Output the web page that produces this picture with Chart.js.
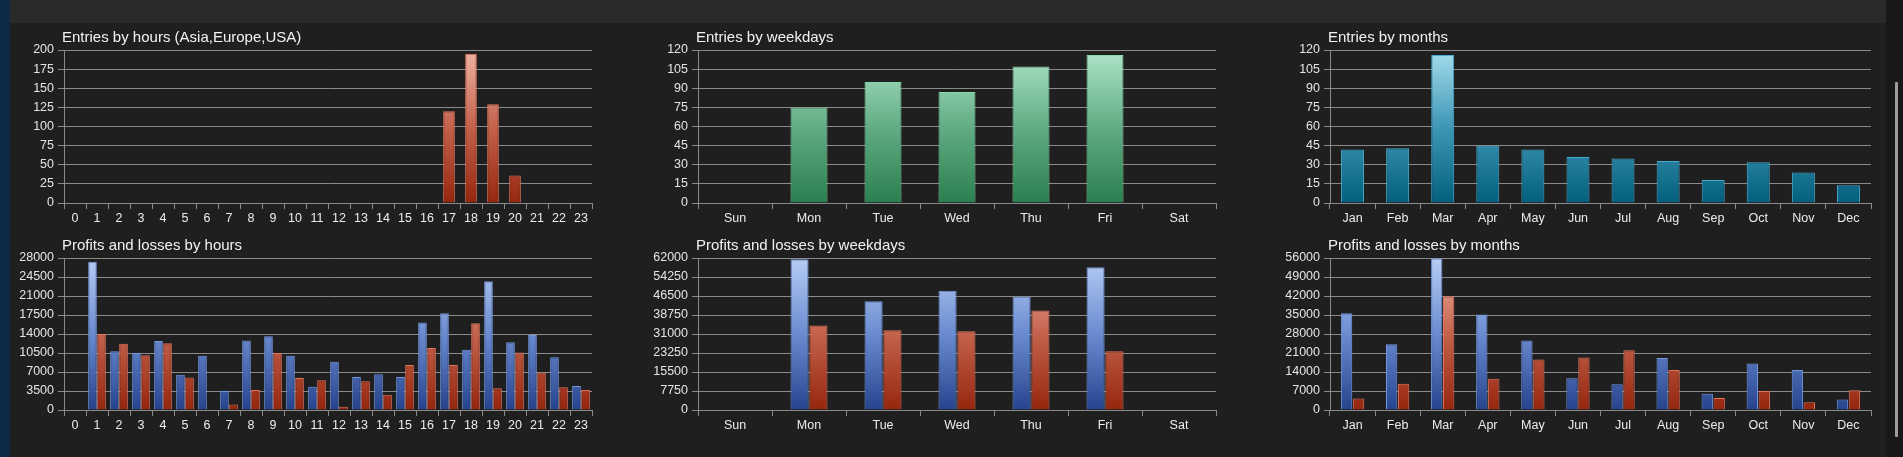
<!DOCTYPE html>
<html>
<head>
<meta charset="utf-8">
<title>Entries and profits</title>
<script src="https://cdn.jsdelivr.net/npm/chart.js@4.4.1/dist/chart.umd.min.js"></script>
<style>
  html, body { margin: 0; padding: 0; }
  body { width: 1903px; height: 457px; overflow: hidden; background: #1f1f1f; position: relative; }
  #stripe  { position: absolute; left: 0; top: 0; width: 10px; height: 457px; background: #0c2a45; }
  #topbar  { position: absolute; left: 10px; top: 0; width: 1876px; height: 23px; background: #2a2a2a; }
  #rail    { position: absolute; left: 1886px; top: 0; width: 17px; height: 457px; background: #181818; }
  #thumb   { position: absolute; left: 1895px; top: 82px; width: 3px; height: 355px; background: #9c9c9c; border-radius: 1px; }
  canvas   { position: absolute; }
</style>
</head>
<body>
<div id="stripe"></div>
<div id="topbar"></div>
<div id="rail"></div>
<div id="thumb"></div>

<canvas id="c-hours"     width="600" height="202" style="left:0px;top:23px"></canvas>
<canvas id="c-weekdays"  width="584" height="202" style="left:640px;top:23px"></canvas>
<canvas id="c-months"    width="613" height="202" style="left:1266px;top:23px"></canvas>
<canvas id="c-pl-hours"    width="600" height="204" style="left:0px;top:228px"></canvas>
<canvas id="c-pl-weekdays" width="584" height="204" style="left:640px;top:228px"></canvas>
<canvas id="c-pl-months"   width="613" height="204" style="left:1266px;top:228px"></canvas>

<script>
// ── Data ─────────────────────────────────────────────────────────────────────

const hourLabels    = ['0','1','2','3','4','5','6','7','8','9','10','11','12','13','14','15','16','17','18','19','20','21','22','23'];
const weekdayLabels = ['Sun','Mon','Tue','Wed','Thu','Fri','Sat'];
const monthLabels   = ['Jan','Feb','Mar','Apr','May','Jun','Jul','Aug','Sep','Oct','Nov','Dec'];

const entriesByHour    = [0,0,0,0,0,0,0,0,0,0,0,0,0,0,0,0,0,120,195,129,36,0,0,0];
const entriesByWeekday = [0,75,95,87,107,116,0];
const entriesByMonth   = [42,43,116,45,42,36,35,33,18,32,24,14];

const profitByHour  = [0,27300,10800,10500,12700,6500,10000,3500,12800,13600,10000,4300,8900,6100,6600,6100,16100,17800,11100,23700,12500,13800,9700,4400];
const lossByHour    = [0,14000,12200,10100,12300,6000,100,1000,3700,10500,5900,5500,600,5300,2800,8300,11400,8300,16000,4000,10600,6900,4200,3700];
const profitByWeekday = [0,61500,44400,48600,46200,58200,0];
const lossByWeekday   = [0,34500,32500,32100,40600,24000,0];
const profitByMonth = [35600,24200,55900,35200,25600,11700,9500,19200,6000,17100,14700,3900];
const lossByMonth   = [4200,9700,41900,11500,18600,19300,22000,14700,4400,7000,2900,7300];

// axis ranges (max, step) as on the picture
const hoursAxis      = [200, 25];
const weekdaysAxis   = [120, 15];
const monthsAxis     = [120, 15];
const plHoursAxis    = [28000, 3500];
const plWeekdaysAxis = [62000, 7750];
const plMonthsAxis   = [56000, 7000];

// ── Look ─────────────────────────────────────────────────────────────────────

Chart.defaults.font.family = '"Liberation Sans", Arial, sans-serif';
Chart.defaults.font.size   = 12;
Chart.defaults.color       = '#e4e4e4';

const gridColor = '#8a8a8a';

const palette = {
  red:   { stops: ['#efb3a3', '#c4624c', '#96260e'], border: '#e2735c' },
  blue:  { stops: ['#b6cdf4', '#6a8bd0', '#26448e'], border: '#7396e2' },
  green: { stops: ['#afe5c9', '#62ad84', '#2a7f4f'], border: '#84d8aa' },
  teal:  { stops: ['#a6deee', '#3f97b6', '#035f7d'], border: '#46acd0' },
};

// gradient spans the whole plot height, so tall bars get the light top
function fillFor(name) {
  return ctx => {
    const { chart } = ctx;
    const area = chart.chartArea;
    if (!area) return palette[name].stops[2];
    const g = chart.ctx.createLinearGradient(0, area.top, 0, area.bottom);
    const s = palette[name].stops;
    g.addColorStop(0, s[0]);
    g.addColorStop(0.5, s[1]);
    g.addColorStop(1, s[2]);
    return g;
  };
}

function barSet(values, name, pct) {
  return {
    data: values,
    backgroundColor: fillFor(name),
    borderColor: palette[name].border,
    borderWidth: 1,
    borderSkipped: 'bottom',
    barPercentage: pct[0],
    categoryPercentage: pct[1],
  };
}

// title drawn just left of the y axis line, above the plot
const panelTitle = {
  id: 'panelTitle',
  afterDraw(chart, args, opts) {
    const c = chart.ctx;
    c.save();
    c.font = '15px "Liberation Sans", Arial, sans-serif';
    c.fillStyle = '#f2f2f2';
    c.textBaseline = 'middle';
    c.fillText(opts.text, chart.chartArea.left - 2, chart.chartArea.top - 12);
    c.restore();
  }
};

function makeChart(id, title, labels, datasets, axis, yWidth, padTop) {
  return new Chart(document.getElementById(id), {
    type: 'bar',
    data: { labels, datasets },
    plugins: [panelTitle],
    options: {
      responsive: false,
      animation: false,
      devicePixelRatio: 1,
      layout: { padding: { top: padTop, right: 8, left: 0, bottom: 0 } },
      plugins: {
        legend: { display: false },
        tooltip: { enabled: false },
        panelTitle: { text: title },
      },
      scales: {
        x: {
          offset: true,
          grid: { offset: true, drawOnChartArea: false, drawTicks: true, tickLength: 6, color: gridColor },
          border: { display: true, color: gridColor },
          ticks: { autoSkip: false, maxRotation: 0, padding: 2, color: '#ececec', font: { size: 12.5 } },
          afterFit: s => { s.height = 22; },
        },
        y: {
          min: 0, max: axis[0],
          grid: { color: gridColor, drawTicks: true, tickLength: 6 },
          border: { display: true, color: gridColor },
          ticks: { stepSize: axis[1], padding: 4, color: '#e4e4e4', font: { size: 12.5 }, callback: v => String(v) },
          afterFit: s => { s.width = yWidth; },
        }
      }
    }
  });
}

// ── Charts ───────────────────────────────────────────────────────────────────

makeChart('c-hours', 'Entries by hours (Asia,Europe,USA)', hourLabels,
  [barSet(entriesByHour, 'red', [1, 0.53])], hoursAxis, 64, 27);

makeChart('c-weekdays', 'Entries by weekdays', weekdayLabels,
  [barSet(entriesByWeekday, 'green', [1, 0.5])], weekdaysAxis, 58, 27);

makeChart('c-months', 'Entries by months', monthLabels,
  [barSet(entriesByMonth, 'teal', [1, 0.51])], monthsAxis, 64, 27);

makeChart('c-pl-hours', 'Profits and losses by hours', hourLabels,
  [barSet(profitByHour, 'blue', [0.96, 0.82]), barSet(lossByHour, 'red', [0.96, 0.82])],
  plHoursAxis, 64, 30);

makeChart('c-pl-weekdays', 'Profits and losses by weekdays', weekdayLabels,
  [barSet(profitByWeekday, 'blue', [0.96, 0.51]), barSet(lossByWeekday, 'red', [0.96, 0.51])],
  plWeekdaysAxis, 58, 30);

makeChart('c-pl-months', 'Profits and losses by months', monthLabels,
  [barSet(profitByMonth, 'blue', [0.95, 0.53]), barSet(lossByMonth, 'red', [0.95, 0.53])],
  plMonthsAxis, 64, 30);
</script>
</body>
</html>
